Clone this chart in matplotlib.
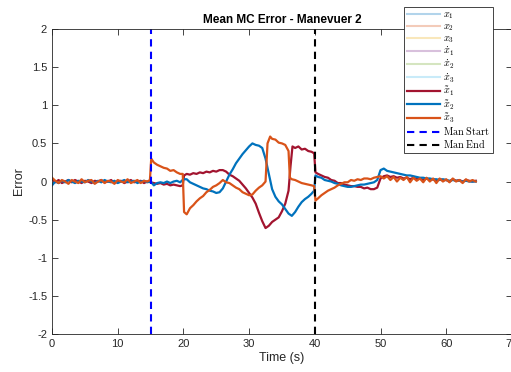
import matplotlib
matplotlib.use("Agg")
import matplotlib.pyplot as plt

plt.rcParams["font.family"] = ["Liberation Sans", "DejaVu Sans"]
plt.rcParams["mathtext.fontset"] = "cm"

# ---- data ----
pre_t = [0, 0.5, 1, 1.5, 2, 2.5, 3, 3.5, 4, 4.5, 5, 5.5, 6, 6.5, 7, 7.5, 8, 8.5, 9, 9.5,
         10, 10.5, 11, 11.5, 12, 12.5, 13, 13.5, 14, 14.5]
pre_1 = [0.03, -0.01, 0.02, -0.02, 0.0, 0.02, -0.01, 0.02, 0.0, -0.02, 0.01, 0.0, -0.02, 0.01, 0.0,
         0.02, -0.01, 0.0, 0.02, -0.02, 0.0, 0.01, -0.02, 0.0, 0.02, -0.01, 0.0, 0.01, -0.02, 0.0]
pre_2 = [-0.05, 0.0, -0.02, 0.01, -0.01, 0.02, 0.0, -0.02, 0.01, 0.0, -0.01, 0.02, 0.0, -0.02, 0.01,
         -0.01, 0.02, 0.0, -0.01, 0.01, -0.02, 0.0, 0.02, -0.01, 0.0, 0.01, -0.02, 0.0, 0.01, -0.01]
pre_3 = [0.05, 0.01, -0.02, 0.02, 0.0, -0.03, 0.02, 0.0, -0.02, 0.03, -0.01, 0.01, 0.02, -0.03, 0.0,
         0.02, -0.02, 0.01, 0.0, -0.03, 0.02, 0.0, -0.01, 0.03, -0.02, 0.0, 0.02, -0.02, 0.01, 0.0]

tail_t = [50.5, 51, 51.5, 52, 52.5, 53, 53.5, 54, 54.5, 55, 55.5, 56, 56.5, 57, 57.5, 58, 58.5,
          59, 59.5, 60, 60.5, 61, 61.5, 62, 62.5, 63, 63.5, 64, 64.5]

t1 = pre_t + [15, 15.5, 16, 16.5, 17, 17.5, 18, 18.5, 19, 19.5, 19.9,
              20.1, 20.5, 21, 21.5, 22, 22.5, 23, 23.5, 24, 24.5, 25, 25.5, 26, 26.5, 27, 27.5,
              28, 28.5, 29, 29.5, 30, 30.5, 31, 31.5, 32, 32.5, 33, 33.5, 34, 34.5, 35, 35.5,
              36, 36.3, 36.6, 37, 37.5, 38, 38.5, 39, 39.5, 39.9,
              40.1, 40.5, 41, 41.5, 42, 42.5, 43, 43.5, 44, 44.5, 45, 45.5, 46, 46.5, 47, 47.5,
              48, 48.5, 49, 49.5, 50] + tail_t
e1 = pre_1 + [-0.01, -0.02, -0.03, -0.02, -0.04, -0.03, -0.05, -0.04, -0.05, -0.06, -0.05,
              0.08, 0.1, 0.09, 0.11, 0.1, 0.12, 0.11, 0.13, 0.12, 0.14, 0.13, 0.15, 0.15, 0.13, 0.09, 0.07,
              0.04, 0.01, -0.04, -0.09, -0.15, -0.21, -0.29, -0.41, -0.52, -0.61, -0.58, -0.53, -0.5, -0.47, -0.39, -0.29,
              -0.12, 0.2, 0.46, 0.44, 0.46, 0.42, 0.43, 0.4, 0.39, 0.37,
              0.12, 0.1, 0.08, 0.06, 0.05, 0.02, 0.01, -0.02, -0.02, -0.04, -0.05, -0.06, -0.06, -0.07, -0.07, -0.09,
              -0.08, -0.1, -0.1, -0.08, 0.04] + \
     [0.07, 0.08, 0.06, 0.07, 0.05, 0.06, 0.04, 0.05, 0.03, 0.05, 0.03, 0.04, 0.02, 0.04, 0.02,
      0.03, 0.01, 0.03, 0.02, 0.02, 0.0, 0.03, 0.01, 0.02, 0.0, 0.02, 0.01, 0.0, 0.01]

t2 = pre_t + [15, 15.5, 16, 16.5, 17, 17.5, 18, 18.5, 19, 19.5, 20, 20.5, 21, 21.5, 22, 22.5,
              23, 23.5, 24, 24.5, 25, 25.5, 26, 26.5, 27, 27.5, 28, 28.5, 29, 29.5, 30, 30.5,
              31, 31.5, 32, 32.5, 33, 33.5, 34, 34.5, 35, 35.5, 36, 36.5, 37, 37.5, 38, 38.5,
              39, 39.5, 39.9, 40.1, 40.5, 41, 41.5, 42, 42.5, 43, 43.5, 44, 44.5, 45, 45.5, 46,
              46.5, 47, 47.5, 48, 48.5, 49, 49.5, 50] + tail_t
e2 = pre_2 + [0.0, -0.05, -0.02, -0.01, -0.02, 0.0, -0.02, 0.0, 0.01, -0.01, 0.03, 0.03, -0.01, -0.03, -0.05, -0.07,
              -0.09, -0.1, -0.12, -0.13, -0.15, -0.14, -0.09, 0.0, 0.09, 0.16, 0.24, 0.3, 0.36, 0.41, 0.46, 0.5,
              0.48, 0.47, 0.44, 0.3, 0.1, -0.1, -0.2, -0.26, -0.3, -0.36, -0.42, -0.45, -0.4, -0.33, -0.27, -0.23,
              -0.2, -0.16, -0.12, 0.08, 0.06, 0.05, 0.02, 0.01, 0.0, -0.02, -0.03, -0.05, -0.06, -0.07, -0.07, -0.06,
              -0.05, -0.04, -0.04, -0.03, -0.02, -0.01, 0.02, 0.15] + \
     [0.17, 0.14, 0.13, 0.12, 0.11, 0.1, 0.09, 0.08, 0.08, 0.07, 0.06, 0.05, 0.05, 0.04, 0.04,
      0.03, 0.03, 0.02, 0.03, 0.02, 0.01, 0.02, 0.01, 0.01, 0.0, 0.01, 0.0, 0.0, 0.0]

t3 = pre_t + [14.9, 15.1, 15.5, 16, 16.5, 17, 17.5, 18, 18.5, 19, 19.5, 19.9,
              20.1, 20.5, 21, 21.5, 22, 22.5, 23, 23.5, 24, 24.5, 25, 25.5, 26, 26.5, 27, 27.5,
              28, 28.5, 29, 29.5, 30, 30.5, 31, 31.5, 32, 32.5, 32.8, 33.2, 33.5, 34, 34.5, 35,
              35.5, 36, 36.2, 36.5, 37, 37.5, 38, 38.5, 39, 39.5, 39.9,
              40.1, 40.5, 41, 41.5, 42, 42.5, 43, 43.5, 44, 44.5, 45, 45.5, 46, 46.5, 47, 47.5,
              48, 48.5, 49, 49.5, 50] + tail_t
e3 = pre_3 + [0.02, 0.3, 0.25, 0.22, 0.2, 0.18, 0.17, 0.14, 0.15, 0.12, 0.1, 0.1,
              -0.4, -0.43, -0.35, -0.31, -0.26, -0.22, -0.19, -0.14, -0.11, -0.07, -0.05, -0.02, 0.02, -0.01, -0.02, -0.05,
              -0.08, -0.1, -0.14, -0.16, -0.18, -0.17, -0.12, -0.08, -0.05, 0.0, 0.5, 0.59, 0.56, 0.55, 0.51, 0.5,
              0.48, 0.4, 0.05, 0.03, 0.02, 0.0, -0.02, -0.03, -0.04, -0.05, -0.06,
              -0.25, -0.22, -0.18, -0.15, -0.12, -0.1, -0.08, -0.05, -0.03, -0.01, -0.01, 0.02, 0.01, 0.03, 0.02, 0.04,
              0.04, 0.03, 0.05, 0.06, 0.07] + \
     [0.04, 0.07, 0.02, 0.06, 0.0, 0.05, 0.02, 0.06, -0.01, 0.05, 0.01, 0.04, -0.01, 0.05, 0.0,
      0.04, -0.02, 0.04, 0.0, 0.03, -0.01, 0.04, 0.0, 0.02, -0.02, 0.03, 0.0, 0.02, 0.0]

man_start = 15
man_end = 40

# ---- plot ----
fig = plt.figure(figsize=(5.11, 3.72), dpi=100)
ax = fig.add_axes([0.1018, 0.102, 0.900, 0.820])

pale = ["#0072BD", "#D95319", "#EDB120", "#7E2F8E", "#77AC30", "#4DBEEE"]
pale_labels = [r"$x_1$", r"$x_2$", r"$x_3$", r"$\dot{x}_1$", r"$\dot{x}_2$", r"$\dot{x}_3$"]
for c, lab in zip(pale, pale_labels):
    ax.plot([], [], color=c, alpha=0.3, lw=1.5, label=lab)

ax.plot(t1, e1, color="#A2142F", lw=1.6, label=r"$\tilde{x}_1$")
ax.plot(t2, e2, color="#0072BD", lw=1.6, label=r"$\tilde{x}_2$")
ax.plot(t3, e3, color="#D95319", lw=1.6, label=r"$\tilde{x}_3$")
ax.axvline(man_start, color="#0000FF", ls=(0, (3.5, 2.5)), lw=1.5, label=r"$\mathrm{Man\ Start}$")
ax.axvline(man_end, color="black", ls=(0, (3.5, 2.5)), lw=1.5, label=r"$\mathrm{Man\ End}$")

ax.set_xlim(0, 70)
ax.set_ylim(-2, 2)
ax.set_xticks(range(0, 71, 10))
ax.set_yticks([-2, -1.5, -1, -0.5, 0, 0.5, 1, 1.5, 2])
ax.set_yticklabels(["-2", "-1.5", "-1", "-0.5", "0", "0.5", "1", "1.5", "2"])
ax.tick_params(direction="in", length=4, labelsize=8, colors="#262626",
               top=True, right=True, width=0.6)
for s in ax.spines.values():
    s.set_color("#262626")
    s.set_linewidth(0.6)

ax.set_xlabel("Time (s)", fontsize=9, color="#262626", labelpad=2)
ax.set_ylabel("Error", fontsize=9, color="#262626", labelpad=2)
ax.set_title("Mean MC Error - Manevuer 2", fontsize=8.5, fontweight="bold", pad=4)

leg = fig.legend(loc="upper left", bbox_to_anchor=(0.790, 0.982), fontsize=7.3,
                 handlelength=3.3, framealpha=1, fancybox=False, edgecolor="#262626",
                 borderpad=0.3, labelspacing=0.0, handletextpad=0.3, borderaxespad=0)
leg.get_frame().set_linewidth(0.6)

fig.savefig("out.png", dpi=100)
